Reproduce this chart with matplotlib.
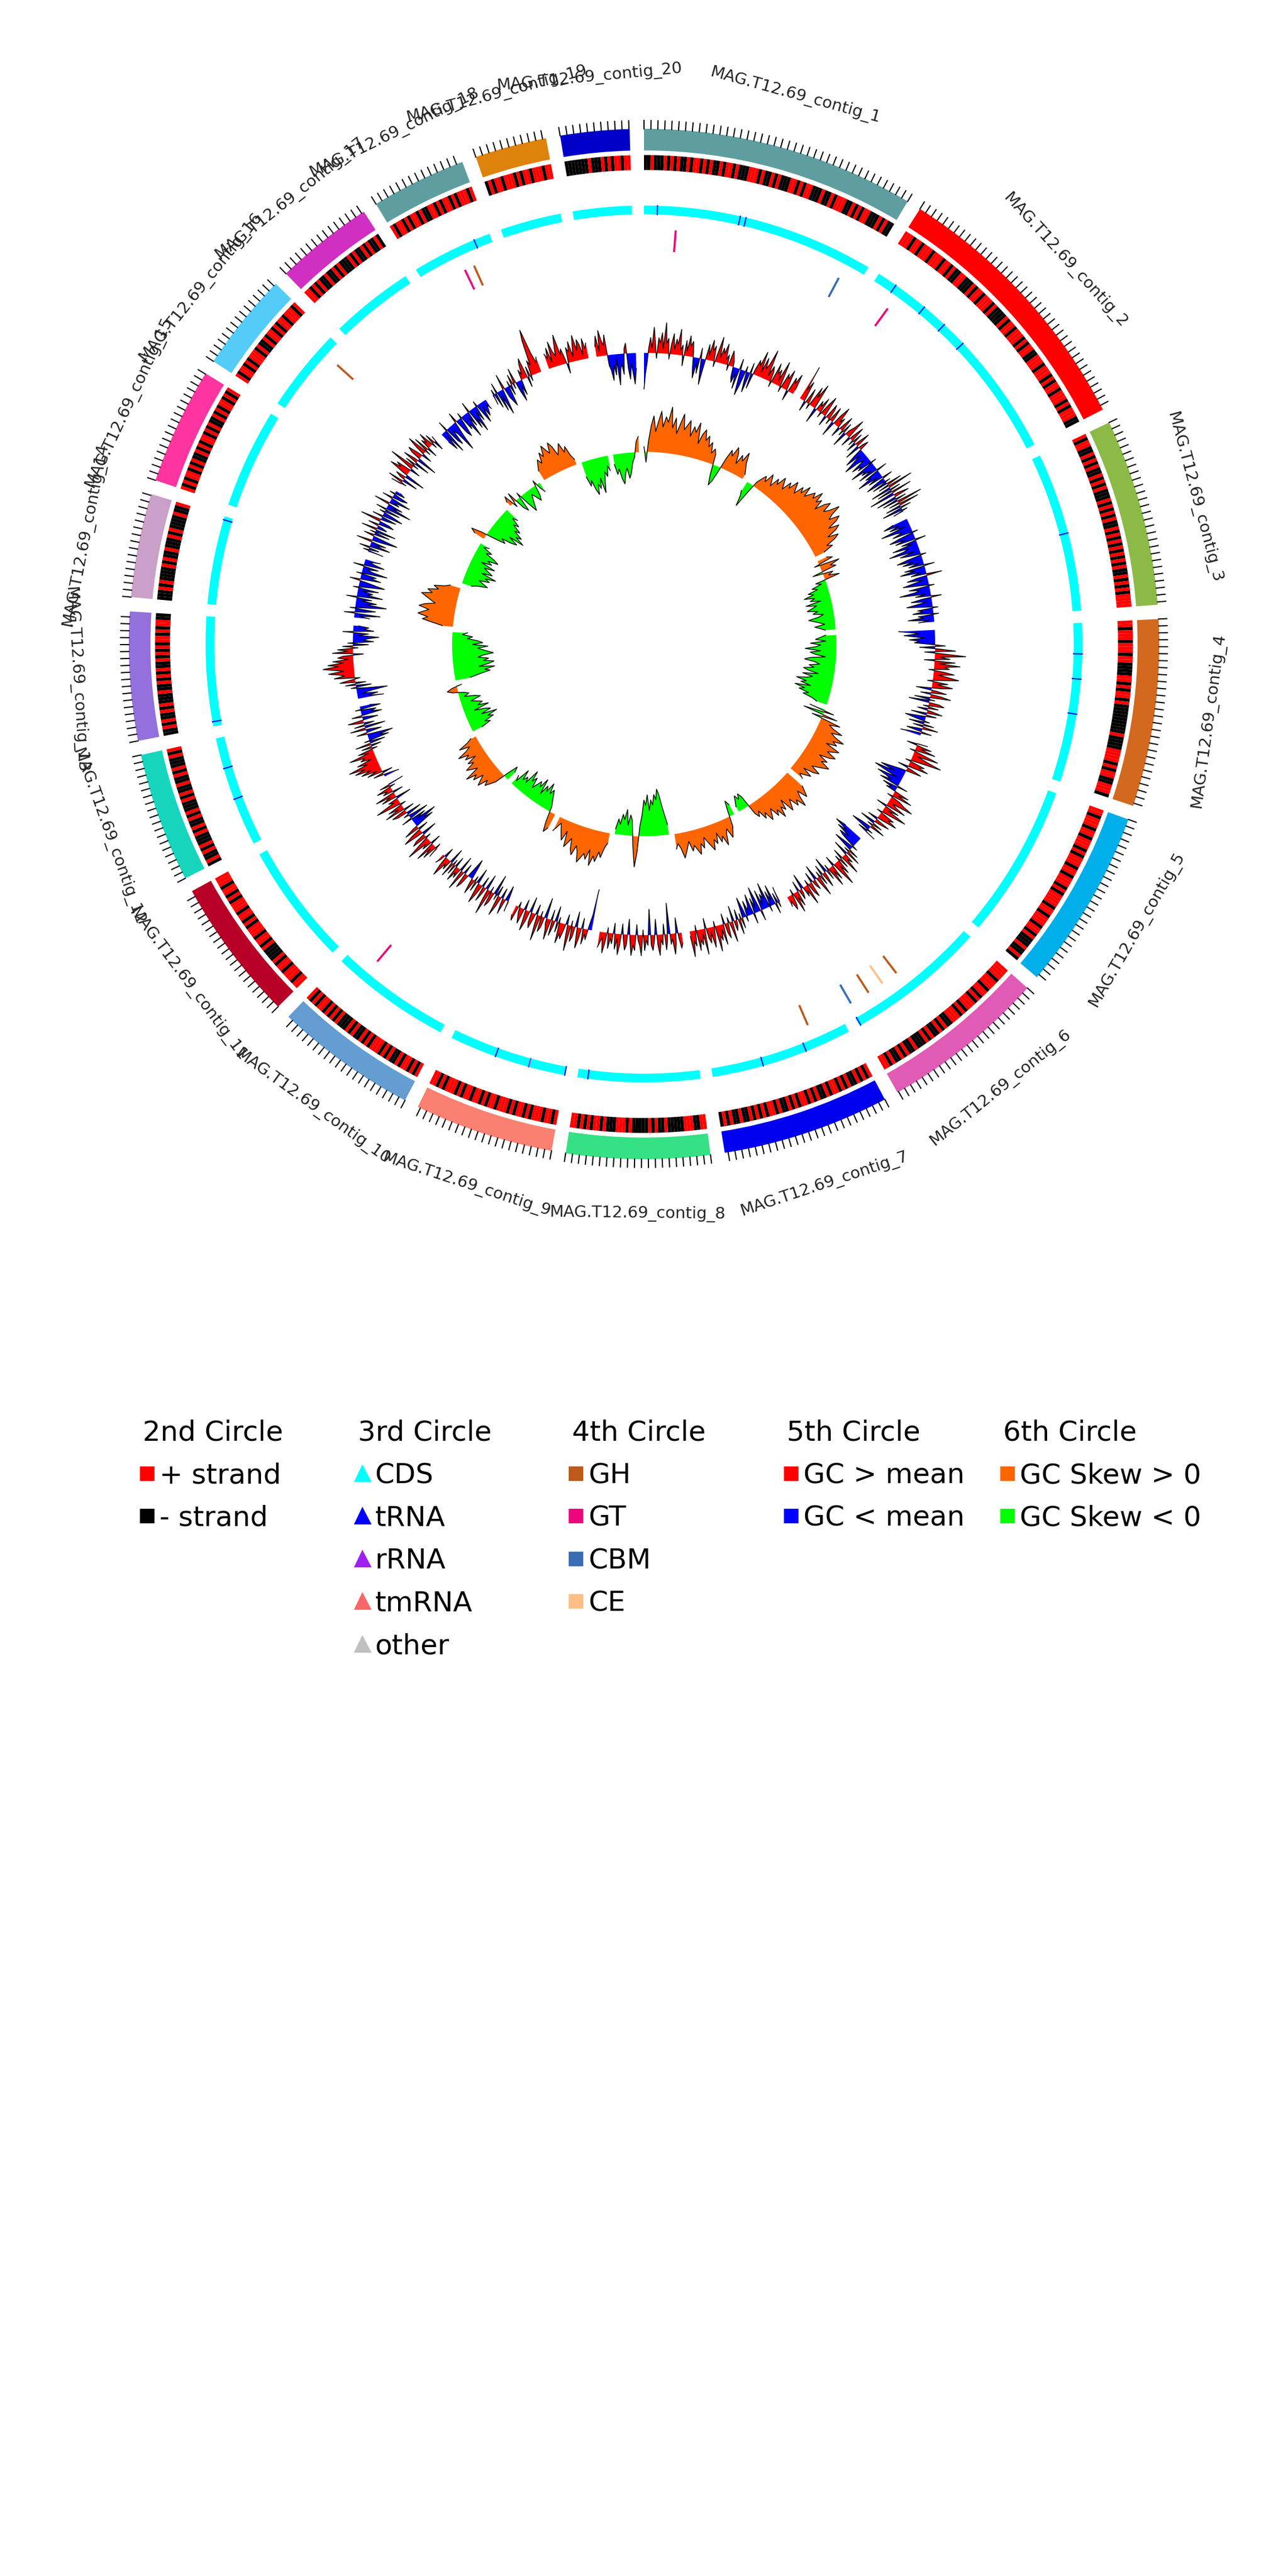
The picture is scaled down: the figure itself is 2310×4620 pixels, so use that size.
import numpy as np
import matplotlib.pyplot as plt
from matplotlib.lines import Line2D

# ---- data ----
contig_names = ["MAG.T12.69_contig_%d" % i for i in range(1, 21)]
contig_len = [400, 397, 274, 274, 265, 242, 245, 210, 204, 208,
              209, 190, 188, 152, 171, 144, 144, 139, 105, 101]  # kb
contig_colors = ["#5F9EA0", "#FF0000", "#8CBA47", "#D2691E", "#00AEEA",
                 "#E05BB4", "#0000EE", "#36E084", "#FA8072", "#639DD2",
                 "#B80026", "#17D5BD", "#9370DB", "#CA9FC8", "#FE35A0",
                 "#55CBF9", "#D02FC2", "#5F9EA0", "#DE820C", "#0000C8"]

# 2nd circle: dominant strand per 5 kb bin
strand_bins = [
    "--+---+-+-+--+-++-+-+--+-++-+---+++-+--+-+---++-+-++---+--+-+++--+-+-++---+-+--",
    "+++-++-+++-+++-++-+--++---+-++-+++-+----+-++-+++-+-++--+++-+++-+-++-+++-+-+++--",
    "+-++--+-+-+--+-+-+---+-+-+-+--+-+-+-+-+-+-+--+-+-+-++++",
    "++-+++-+++-++----++-+-++-+---------+----++++-+-++--+++-",
    "++-+++-++-+++-+-+++-++-+++-+-++++-++-+++-++-+---+--+-",
    "++++-+++-++-+-+++-+-+++--+-+--+-+---+--+-+--+-++",
    "+-+-+--+-+-++-+--+-+-++-+-+--+-++-+-+-+--+--+-+-",
    "++--+++-----+--+-+-----+-+++---+-++-+-+-++",
    "+-++-+++-+-++-+-+++-++-+-++-++-+-+++-+-++",
    "+-+-++-+--+-+-+++-+-+--+-+---+-+-+-++-+-+",
    "++-+++-++-+----+-++-+++-+-++-+++-+-++-+++",
    "-+--+-+---+-+--+-+---+-+--+--+-+---+-+",
    "--+-+--+-+---+--+-+-+--+-+-+-++-+-++--",
    "---+-+----+-+--+---+-+----+--+",
    "+-+-++-+-+--+-+-++-+-+--+-+-++-+-+",
    "+-++-+-+++-+--+-++-+-++-+++-+",
    "++-+-+--+--+-+---+-+--+-+--+-",
    "+-++-+-++-+--++-+-++-+-+++-+",
    "-+-++-+++-+-++-+++-++",
    "-------+---+-+-++-++",
]

# 3rd circle: non-coding RNA sites (contig number, position kb)
trna_sites = [(1, 23), (1, 165), (1, 175), (2, 35), (2, 96), (2, 141), (2, 186),
              (3, 140), (4, 53), (4, 96), (4, 156), (6, 240), (7, 80), (7, 157),
              (8, 192), (9, 1), (9, 123), (12, 82), (12, 137), (13, 8),
              (14, 146), (18, 111)]
rrna_sites = [(9, 64)]

# 4th circle: CAZy genes (contig number, position kb, family)
cazy_sites = [(1, 57, "GT"), (1, 364, "CBM"), (2, 47, "GT"), (6, 138, "GH"),
              (6, 169, "CE"), (6, 199, "GH"), (6, 236, "CBM"), (7, 60, "GH"),
              (10, 161, "GT"), (16, 117, "GH"), (18, 75, "GT"), (18, 93, "GH")]
cazy_colors = {"GH": "#BD5A1C", "GT": "#EC067E", "CBM": "#3A6CB2", "CE": "#FDBF86"}

# 5th circle: GC content minus mean (%), 4 kb windows
gc_dev = [
    [-7, -4, -2, 1, 3, 1, 5, 2, -1, 3, 2, 4, 1, 6, 2, 3, -1, 2, 4, 1, 3, 2, 5, 1, 2, -2, 3, 1, 4, 2,
     3, 1, -2, -4, -1, -3, 2, -2, -5, -1, 3, 1, 4, 2, 3, -1, 2, 5, 1, 3, 2, 4, 1, 2, -1, 3, 2, 1, -2, -3,
     -1, -4, 2, -2, -5, -3, 1, -2, -4, 2, -3, 1, 3, 2, 5, 1, 4, 2, 3, 6, 1, 3, 2, -1, 4, 2, 3, 1, 5, 2,
     -1, 3, 2, 4, 1, -2, 3, 2, 4, 1],
    [7, 2, 4, 1, -2, 3, 1, -1, 4, 2, 5, 1, -3, 2, 1, 3, -1, 2, 4, 1, -2, 3, 2, -1, 3, 1, -3, 2, 4, 1,
     2, -2, 1, 3, -1, 2, -3, 1, 2, 4, -2, 1, 3, -1, 2, -2, 1, 3, -3, 1, 2, -2, -4, -1, -3, -5, -2, -1, -4, -2,
     -3, 1, -5, -2, -3, -1, -4, 2, -3, -2, -5, -1, -3, 2, -2, -4, 1, -3, 3, -2, 5, -4, 2, -3, 4, -5, 1, 3, -4, 2,
     -3, 5, -2, 4, -3, 2, -4, 1, -2],
    [-3, -5, -2, -4, -1, -6, -3, -2, -4, 1, -3, -5, -2, -4, 2, -3, -1, -5, -2, -3, -6, -1, -4, -2, 1, -3, -5, -2, -4, -1,
     -3, 2, -4, -2, -5, -1, -3, 3, -2, -4, -1, -3, -5, -2, 1, -4, -2, -3, -6, -1, -3, 2, -2, -4, -1, -3, -5, -2, 1, -3,
     -2, -4, 1, -3, -2, -5, -1, -3],
    [-7, -5, -3, -6, -4, -2, -5, -3, -4, -1, 2, -3, 1, 4, -2, 2, 6, 1, 3, -2, 4, 1, 5, 2, 3, -1, 2, 4, 1, 3,
     5, 2, -1, 3, 1, 4, 2, -3, 1, 3, -2, 2, 4, -3, 1, -4, 2, 3, -1, 2, -2, 1, 3, -3, 2, -1, -4, -2, 1, -3,
     2, -2, 3, -1, -3, 2, -2, -4],
    [2, -2, 3, 1, 4, -1, 2, 5, 1, 3, 6, 2, -1, 3, 2, 4, -2, 1, 3, -1, -3, -5, -2, -6, -4, -1, -5, -3, -2, -4,
     2, -3, -1, -2, 3, 1, 4, -1, 2, 3, 5, 1, 2, 4, -2, 3, 1, 5, 2, -1, 3, 2, 4, 1, -2, 3, 1, -3, 2, -1,
     3, -2, -4, 1, -2, 2],
    [-4, -6, -3, -5, -2, -4, -3, 1, -2, -4, 2, -1, 3, -3, 2, 1, 4, -2, 2, -1, 3, 1, 5, 2, -2, 3, 1, 4, -1, 2,
     -3, 1, 3, -2, 2, -1, 4, 1, -3, 2, 1, -2, 3, 2, -1, 4, 1, 2, -3, 1, 2, -2, 3, 1, 4, -1, 2, 3, 1, 2],
    [-3, 1, -2, 2, -4, -1, -3, 1, -5, -2, -3, -1, -4, 2, -2, -5, -1, -3, 2, -4, -2, -1, -3, 1, -2, -4, 2, -1, 3, -2,
     1, 2, -3, 4, 1, -1, 3, 2, -2, 4, 1, 3, 2, 5, -1, 2, 4, 1, 3, 2, -2, 5, 1, 3, 2, 4, -1, 3, 2, 5, 1],
    [2, 3, 1, -3, 2, 4, 1, 2, -6, 1, 3, -2, 2, 1, 4, 2, -3, 1, 3, 2, -5, 2, 1, 3, -1, 4,
     2, 1, -2, 3, 2, 4, 1, -3, 2, 3, 1, -2, 2, 4, 1, 3, -2, 2, 1, 3, -1, 2, 4, 1, 2, 3],
    [-8, -3, -1, 2, 1, 3, -2, 2, 4, 1, -3, 2, 3, -1, 5, 2, -2, 1, 3, 2, 4, -1, 2, -3, 1, 3,
     -2, 4, 2, 1, -4, 2, 3, -1, 5, 2, -2, 1, 3, 2, -3, 2, 4, 1, -2, 3, 2, 1, -1, 3, 2],
    [2, -1, -3, 3, 1, -2, 2, 4, -2, 1, -4, 2, 3, -1, 5, 2, -3, 1, 3, -2, 2, 4, 1, -3, 2, -1,
     3, 1, -2, -4, -1, 2, 3, -2, 1, 4, -3, 2, 1, 3, -2, 2, -1, 3, -3, 2, 1, 4, 2, -2, 1, 2],
    [2, -1, 3, 1, 4, -2, 2, 1, 5, 2, -1, 3, 2, -3, 1, 4, 2, -2, 3, 1, -4, -2, -5, -1, -3, 2, -4, -1, 1, -3,
     2, 3, -2, 4, 1, 3, -1, 2, 5, 1, 2, -3, 3, 1, 4, -2, 2, 1, 3, -1, 2, -3],
    [-3, -1, 2, -2, 3, 1, 4, 2, 5, 3, 6, 2, 4, 1, 3, 2, 5, 1, 3, -1, 2, -2, 3, -3,
     1, -4, -2, -5, -1, 2, -3, -1, 3, -4, 2, -2, 1, 3, -3, -1, 2, -4, -2, -3, 1, -4, -2],
    [-5, -2, -4, -1, -3, -6, -2, 1, -3, 2, -2, 3, 1, -1, 4, 2, 3, 5, 2, 4, 6, 3, 5, 2, 4, 1,
     3, 2, -2, 4, 1, 3, -1, 2, -3, 1, -4, -2, -3, -5, -1, -3, 2, -4, -2, -3, -1],
    [-3, -1, -5, 2, -2, -4, 1, -3, -6, -2, -4, -1, -3, 2, -5, -2, -3, -1, -4,
     1, -2, -5, -3, -1, 2, -4, -2, -3, 1, -5, -2, -1, -3, 2, -4, -2, -1, -3],
    [-3, 1, -2, 2, -4, -1, -3, 3, -2, -5, -1, 2, -3, 1, -4, 3, -2, -1, 2, -3, -2,
     4, -1, -3, 2, -4, -2, 1, -3, 2, -5, -1, -3, 3, -2, -1, -4, 2, -2, -3, 1, -2, -1],
    [2, -1, 3, -3, 1, 2, -4, 1, 4, 2, 3, -2, 1, 5, -1, 2, -3, 3,
     1, -4, 2, 3, 1, -2, 2, 4, -1, 3, -2, 2, 1, 3, -1, 2, -2, 1],
    [-2, -4, -1, -5, 2, -3, -4, -1, -2, -6, -3, -1, 2, -3, -4, -2, 1, -3,
     -2, -5, -1, -3, 2, -4, -2, -5, -1, -3, 1, -2, -4, -1, -3, -2, -1, -2],
    [-2, 1, -3, 2, -4, -1, -5, -2, 3, -2, -3, -4, 1, -2, 2, -1, 3, -2,
     -4, -1, -3, 2, 1, 3, 4, -2, 2, -1, 3, 2, 7, 9, 4, 2, 3],
    [3, 2, 4, 1, 5, 3, 2, 4, 6, 2, 3, 1, -2, 3, 2, 4, 1, 3, 5, 2, 4, 3, 1, 4, 2, 3],
    [2, 4, 1, 5, 3, 2, 4, -2, -3, -5, -2, -4, -1, -6, -3, -2, -4, 1, 2, -3, -5, -2, -4, -6, -3],
]

# 6th circle: GC skew (x100), 8 kb windows
gc_skew = [
    [1, -2, 2, 5, 7, 4, 6, 8, 5, 7, 6, 9, 5, 7, 4, 6, 8, 5, 6, 7, 4, 6, 5, 7, 3,
     5, 6, 4, 5, 3, 4, 2, 3, 2, -2, -4, -3, -1, 2, 4, 3, 5, 4, 2, 4, 3, 5, 3, 2, 1],
    [-2, -3, -5, -2, 1, 2, 3, 2, 4, 3, 2, 4, 3, 5, 4, 3, 5, 4, 6, 5, 4, 6, 5, 7, 5,
     6, 7, 6, 8, 6, 7, 5, 7, 8, 6, 7, 9, 7, 6, 8, 7, 5, 7, 6, 4, 6, 5, 3, 4, 2],
    [2, 3, -1, 4, 2, 3, -2, 2, 1, 3, -2, -1, -3, -2, -4, -3, -5, -3, -4, -2, -5, -3,
     -4, -5, -3, -4, -2, -3, -5, -4, -3, -2, -4, -3, -2],
    [-2, -3, -4, -2, -5, -3, -4, -6, -3, -5, -4, -2, -5, -6, -4, -3, -5, -4, -6, -5,
     -3, -6, -4, -5, -7, -5, -6, -4, -7, -5, -6, -4, -5, -3, -2],
    [-3, 2, -4, 3, -2, 4, 2, 3, 5, 3, 4, 6, 4, 5, 3, 6, 5, 4, 6, 5, 3, 5, 4, 6, 5, 4,
     3, 5, 4, 2, 4, 3, 2, 3],
    [4, 5, 6, 4, 5, 7, 5, 6, 4, 5, 6, 3, 5, 4, 6, 4, 5, 3, 4, 5, 3, 4, 2, 3, 2, -2, -3,
     -2, -3, -2, -1],
    [-2, -3, -1, 2, 3, 4, 2, 3, 5, 3, 4, 2, 4, 3, 5, 4, 3, 2, 4, 3, 5, 4, 3, 4, 2, 3,
     4, 5, 3, 2, 3],
    [-2, -4, -6, -8, -9, -7, -8, -6, -7, -5, -8, -6, -7, -4, -2, 3, 6, 2, -3, -4, -2,
     -5, -3, -4, -2, -3, -1],
    [2, 3, 5, 4, 6, 5, 7, 4, 6, 5, 6, 7, 5, 4, 6, 5, 3, 4, 5, 2, 4, 3, 2, 1, 2, 3],
    [3, 4, 2, -1, -2, -3, -4, -3, -5, -3, -4, -2, -5, -3, -4, -3, -2, -4, -3, -5, -2,
     -3, -2, -4, -1, -2],
    [-2, -3, -1, 2, 3, 4, 3, 5, 4, 3, 5, 4, 6, 3, 4, 5, 3, 4, 2, 4, 3, 5, 3, 2, 4, 2, 1],
    [-2, -4, -3, -5, -4, -6, -3, -5, -4, -2, -5, -3, -4, -3, -2, -4, -3, -1, -2, -1,
     1, 2, 1, -1],
    [-3, -5, -7, -6, -8, -5, -7, -8, -6, -7, -5, -6, -8, -7, -6, -5, -7, -4, -6, -5,
     -3, -4, -2, -3],
    [2, 4, 6, 5, 7, 6, 5, 7, 6, 4, 5, 6, 7, 5, 6, 4, 5, 3, 2],
    [-2, -3, -5, -4, -3, -5, -4, -6, -3, -5, -4, -3, -5, -2, -4, -3, -5, -4, -2, -3, -1, -2],
    [2, 3, 1, -2, -4, -3, -5, -6, -4, -7, -5, -6, -4, -5, -3, -4, -2, -3],
    [1, 2, -1, 2, -2, -3, 1, -2, -4, -3, -2, -1, -2, -3, -2, 1, -1, -2],
    [2, 3, 4, 3, 5, 4, 6, 5, 4, 6, 5, 3, 4, 5, 3, 4, 2, 1],
    [-3, -5, -4, -6, -7, -5, -6, -4, -7, -5, -3, -4, -2, -3],
    [-2, -4, -3, -5, -6, -4, -3, -5, -4, -2, -1, 2, 3],
]

# ---- layout ----
GAP = 1.6            # degrees between contigs
R_BOX = (95.8, 100)
R_STRAND = (92, 94.9)
R_CDS = (83.4, 85.1)
R_CAZY = (76.5, 80.3)
GC_BASE = 56.5
SKEW_BASE = 37.3

deg_per_kb = (360 - GAP * len(contig_len)) / sum(contig_len)
starts = []
pos = 0.0
for L in contig_len:
    starts.append(pos)
    pos += L * deg_per_kb + GAP


def theta(i, kb):
    return np.deg2rad(starts[i] + np.asarray(kb) * deg_per_kb)


fig = plt.figure(figsize=(7.7, 15.4), dpi=300)
ax = fig.add_axes([0, 0.5, 1, 0.5], projection="polar")
ax.set_theta_zero_location("N")
ax.set_theta_direction(-1)
ax.set_ylim(0, 125)
ax.axis("off")

for i, L in enumerate(contig_len):
    t0 = theta(i, 0)
    width = np.deg2rad(L * deg_per_kb)

    # 1st circle: contig boxes, ticks and names
    ax.bar(t0, R_BOX[1] - R_BOX[0], width=width, bottom=R_BOX[0], align="edge",
           color=contig_colors[i], linewidth=0)
    for kb in range(0, int(L) + 1, 10):
        t = theta(i, kb)
        ax.plot([t, t], [100, 101.6], color="black", lw=0.5)
    mid = starts[i] + L * deg_per_kb / 2
    rot = -mid
    if 90 < mid < 270:
        rot += 180
    ax.text(np.deg2rad(mid), 110.5, contig_names[i], rotation=rot, rotation_mode="anchor",
            ha="center", va="center", fontsize=7, color="#222222")

    # 2nd circle: strand
    s = strand_bins[i]
    n = len(s)
    edges = np.linspace(0, L, n + 1)
    cols = ["#FF0000" if c == "+" else "black" for c in s]
    ax.bar(theta(i, edges[:-1]), R_STRAND[1] - R_STRAND[0], width=np.deg2rad(L / n * deg_per_kb),
           bottom=R_STRAND[0], align="edge", color=cols, linewidth=0)

    # 3rd circle: CDS band
    ax.bar(t0, R_CDS[1] - R_CDS[0], width=width, bottom=R_CDS[0], align="edge",
           color="#00FFFF", linewidth=0)

    # 5th circle: GC content
    v = np.array(gc_dev[i], dtype=float)
    x = np.linspace(0, L, len(v))
    t = theta(i, x)
    r = GC_BASE + v
    ax.fill_between(t, GC_BASE, r, where=v >= 0, interpolate=True, color="#FF0000", lw=0)
    ax.fill_between(t, GC_BASE, r, where=v <= 0, interpolate=True, color="#0000FF", lw=0)
    ax.plot(t, r, color="black", lw=0.35)

    # 6th circle: GC skew
    v = np.array(gc_skew[i], dtype=float)
    x = np.linspace(0, L, len(v))
    t = theta(i, x)
    r = SKEW_BASE + v
    ax.fill_between(t, SKEW_BASE, r, where=v >= 0, interpolate=True, color="#FF6600", lw=0)
    ax.fill_between(t, SKEW_BASE, r, where=v <= 0, interpolate=True, color="#00FF00", lw=0)
    ax.plot(t, r, color="black", lw=0.35)

for c, kb in trna_sites:
    t = theta(c - 1, kb)
    ax.plot([t, t], list(R_CDS), color="#0000FF", lw=0.5)
for c, kb in rrna_sites:
    t = theta(c - 1, kb)
    ax.plot([t, t], list(R_CDS), color="#A020F0", lw=0.5)

for c, kb, fam in cazy_sites:
    t = theta(c - 1, kb)
    ax.plot([t, t], list(R_CAZY), color=cazy_colors[fam], lw=0.9)

# ---- legends ----
def sq(color, marker="s", size=5.5):
    return Line2D([], [], marker=marker, ls="", color=color, markersize=size)


groups = [
    ("2nd Circle", [sq("#FF0000"), sq("black")], ["+ strand", "- strand"]),
    ("3rd Circle", [sq("#00FFFF", "^", 6), sq("#0000FF", "^", 6), sq("#A020F0", "^", 6),
                    sq("#F86868", "^", 6), sq("#C0C0C0", "^", 6)],
     ["CDS", "tRNA", "rRNA", "tmRNA", "other"]),
    ("4th Circle", [sq(cazy_colors[k]) for k in ["GH", "GT", "CBM", "CE"]],
     ["GH", "GT", "CBM", "CE"]),
    ("5th Circle", [sq("#FF0000"), sq("#0000FF")], ["GC > mean", "GC < mean"]),
    ("6th Circle", [sq("#FF6600"), sq("#00FF00")], ["GC Skew > 0", "GC Skew < 0"]),
]
col_x = [0.111, 0.278, 0.444, 0.611, 0.779]
for (title, handles, labels), x in zip(groups, col_x):
    fig.legend(handles, labels, title=title, loc="upper left", bbox_to_anchor=(x, 0.449),
               frameon=False, fontsize=12, title_fontsize=12, alignment="left",
               handlelength=0.3, handletextpad=0.3, borderpad=0, borderaxespad=0,
               labelspacing=0.57)

fig.savefig("out.png", dpi=300)
